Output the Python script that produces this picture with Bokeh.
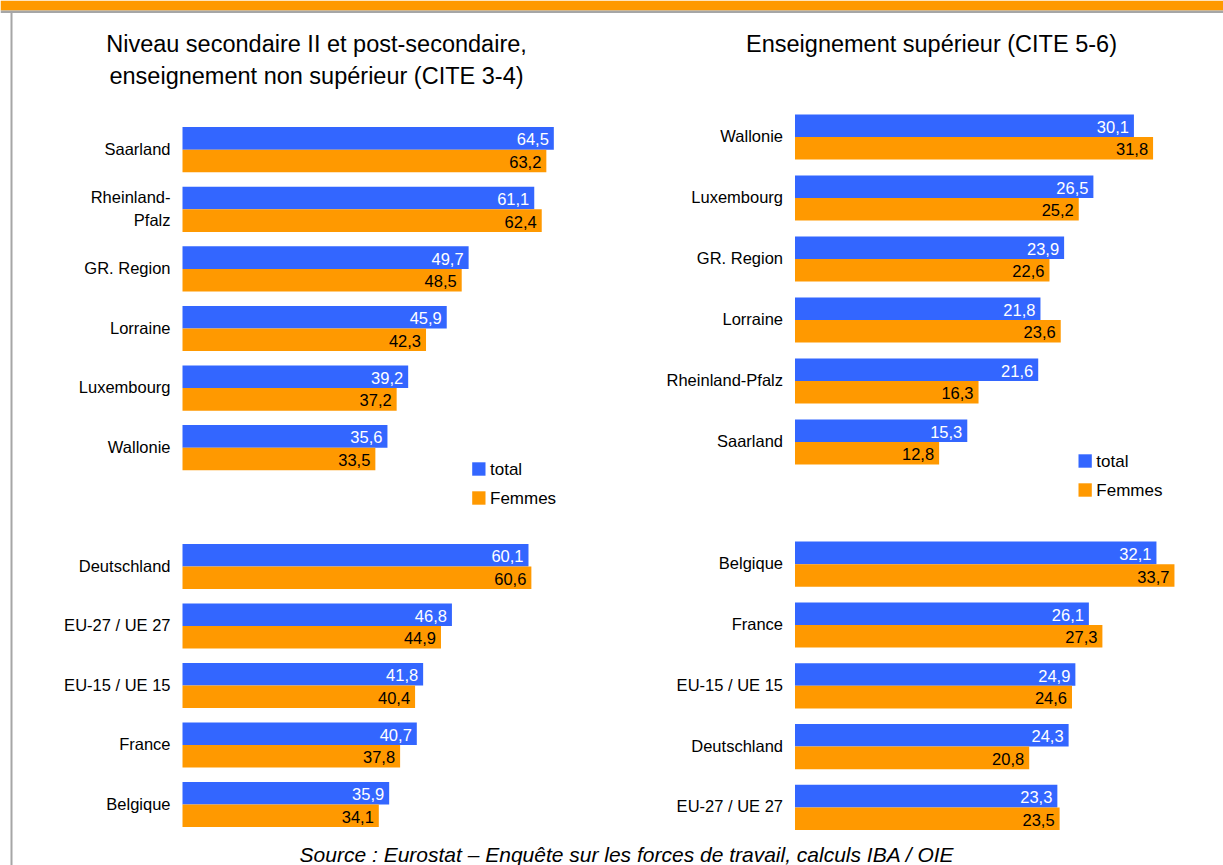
from bokeh.plotting import figure
from bokeh.models import Range1d, ColumnDataSource
from bokeh.core.properties import value
from bokeh.transform import dodge
from bokeh.embed import file_html
from bokeh.resources import INLINE

# ---------------- data ----------------
series_names = ["total", "Femmes"]
series_colors = ["#3366FF", "#FF9900"]

title_left = ["Niveau secondaire II et post-secondaire,", "enseignement non supérieur (CITE 3-4)"]
title_right = "Enseignement supérieur (CITE 5-6)"
source_text = "Source : Eurostat – Enquête sur les forces de travail, calculs IBA / OIE"

tl_regions = ["Saarland", "Rheinland-\nPfalz", "GR. Region", "Lorraine", "Luxembourg", "Wallonie"]
tl_total = [64.5, 61.1, 49.7, 45.9, 39.2, 35.6]
tl_femmes = [63.2, 62.4, 48.5, 42.3, 37.2, 33.5]

bl_countries = ["Deutschland", "EU-27 / UE 27", "EU-15 / UE 15", "France", "Belgique"]
bl_total = [60.1, 46.8, 41.8, 40.7, 35.9]
bl_femmes = [60.6, 44.9, 40.4, 37.8, 34.1]

tr_regions = ["Wallonie", "Luxembourg", "GR. Region", "Lorraine", "Rheinland-Pfalz", "Saarland"]
tr_total = [30.1, 26.5, 23.9, 21.8, 21.6, 15.3]
tr_femmes = [31.8, 25.2, 22.6, 23.6, 16.3, 12.8]

br_countries = ["Belgique", "France", "EU-15 / UE 15", "Deutschland", "EU-27 / UE 27"]
br_total = [32.1, 26.1, 24.9, 24.3, 23.3]
br_femmes = [33.7, 27.3, 24.6, 20.8, 23.5]

# ---------------- layout constants (pixels) ----------------
W, H = 1223, 865
FONT = value("Liberation Sans")
BAR_PX = 22.6

p = figure(width=W, height=H, x_range=Range1d(0, W), y_range=Range1d(H, 0),
           output_backend="svg", toolbar_location=None, min_border=0,
           x_axis_location=None, y_axis_location=None)
p.grid.visible = False
p.outline_line_color = None
p.background_fill_color = "white"
p.border_fill_color = "white"

# frame decorations
p.quad(left=0, right=W, top=0, bottom=10, fill_color="#FF9900", line_color=None)
p.quad(left=0, right=W, top=10, bottom=12.5, fill_color="#A6A6A6", line_color=None)
p.quad(left=10, right=12, top=12.5, bottom=H, fill_color="#A6A6A6", line_color=None)

# value axes: origin px and px per unit
def xr(origin, scale):
    return Range1d(-origin / scale, (W - origin) / scale)

def yr(b0, pitch):
    return Range1d((H - b0) / pitch, -b0 / pitch)

p.extra_x_ranges = {"xl": xr(182.0, 5.757), "xr": xr(794.5, 11.26)}
panels = [
    ("ytl", "xl", 149.2, 59.6, tl_regions, tl_total, tl_femmes),
    ("ybl", "xl", 566.0, 59.5, bl_countries, bl_total, bl_femmes),
    ("ytr", "xr", 136.5, 61.0, tr_regions, tr_total, tr_femmes),
    ("ybr", "xr", 563.7, 60.8, br_countries, br_total, br_femmes),
]
p.extra_y_ranges = {name: yr(b0, pitch) for name, _, b0, pitch, *_ in panels}

def fmt(v):
    return f"{v:.1f}".replace(".", ",")

for yname, xname, b0, pitch, cats, tot, fem in panels:
    h = BAR_PX / pitch
    src = ColumnDataSource(dict(
        idx=list(range(len(cats))), cat=cats, total=tot, femmes=fem,
        tl=[fmt(v) for v in tot], fl=[fmt(v) for v in fem]))
    yr_obj = p.extra_y_ranges[yname]
    p.hbar(y=dodge("idx", -h / 2, range=yr_obj), height=h, left=0, right="total",
           source=src, fill_color=series_colors[0], line_color=None,
           x_range_name=xname, y_range_name=yname)
    p.hbar(y=dodge("idx", h / 2, range=yr_obj), height=h, left=0, right="femmes",
           source=src, fill_color=series_colors[1], line_color=None,
           x_range_name=xname, y_range_name=yname)
    p.text(x=0, y="idx", text="cat", source=src, x_offset=-12, y_offset=-1,
           text_align="right", text_baseline="middle", text_font=FONT,
           text_font_size="16.5px", text_color="#000000", text_line_height=1.28,
           x_range_name=xname, y_range_name=yname)
    p.text(x="total", y=dodge("idx", -h / 2, range=yr_obj), text="tl", source=src,
           x_offset=-5, y_offset=1, text_align="right", text_baseline="middle",
           text_font=FONT, text_font_size="16.5px", text_color="#FFFFFF",
           x_range_name=xname, y_range_name=yname)
    p.text(x="femmes", y=dodge("idx", h / 2, range=yr_obj), text="fl", source=src,
           x_offset=-5, y_offset=1, text_align="right", text_baseline="middle",
           text_font=FONT, text_font_size="16.5px", text_color="#000000",
           x_range_name=xname, y_range_name=yname)

# legends (manual, pixel positioned)
for lx, ly in [(471.7, 468.5), (1078.0, 460.5)]:
    for k, (nm, col) in enumerate(zip(series_names, series_colors)):
        cy = ly + 29.0 * k
        p.quad(left=lx, right=lx + 13.3, top=cy - 6.7, bottom=cy + 6.7,
               fill_color=col, line_color=None)
        p.text(x=[lx + 17.8], y=[cy], text=[nm], text_baseline="middle",
               text_align="left", text_font=FONT, text_font_size="17px",
               text_color="#000000")

# titles
p.text(x=[316, 316], y=[43.5, 75.5], text=title_left, text_align="center",
       text_baseline="alphabetic", text_font=FONT, text_font_size="23.5px",
       text_color="#000000")
p.text(x=[931], y=[43], text=[title_right], text_align="center",
       text_baseline="alphabetic", text_font=FONT, text_font_size="23.5px",
       text_color="#000000")

# source
p.text(x=[626.5], y=[854], text=[source_text], text_align="center",
       text_baseline="alphabetic", text_font=FONT, text_font_size="21px",
       text_font_style="italic", text_color="#000000")

open("out.html", "w").write(file_html(p, INLINE))
